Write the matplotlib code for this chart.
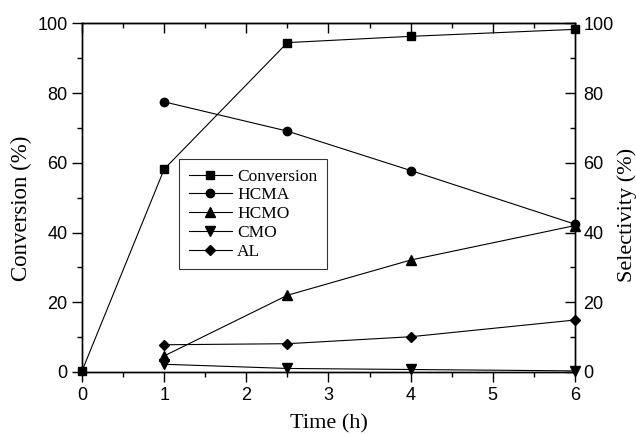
import matplotlib
matplotlib.use("Agg")
import matplotlib.pyplot as plt
from matplotlib.ticker import MultipleLocator

# data
time_conv = [0, 1, 2.5, 4, 6]
conversion = [0.3, 58.2, 94.5, 96.3, 98.3]

time_sel = [1, 2.5, 4, 6]
hcma = [77.5, 69.1, 57.8, 42.4]
hcmo = [4.6, 22.0, 32.1, 42.0]
cmo = [2.2, 1.0, 0.7, 0.3]
al = [7.8, 8.1, 10.1, 14.9]

serif = "Liberation Serif"
sans = "Liberation Sans"

fig = plt.figure(figsize=(6.36, 4.34), dpi=100)
ax = fig.add_axes([0.129, 0.143, 0.775, 0.803])
ax2 = ax.twinx()

lw = 0.8
h1, = ax.plot(time_conv, conversion, "k-s", lw=lw, ms=5.5, label="Conversion", clip_on=False, zorder=3)
h2, = ax2.plot(time_sel, hcma, "k-o", lw=lw, ms=6, label="HCMA", clip_on=False)
h3, = ax2.plot(time_sel, hcmo, "k-^", lw=lw, ms=6.5, label="HCMO", clip_on=False)
h4, = ax2.plot(time_sel, cmo, "k-v", lw=lw, ms=6.5, label="CMO", clip_on=False)
h5, = ax2.plot(time_sel, al, "k-D", lw=lw, ms=5.5, label="AL", clip_on=False)

for a in (ax, ax2):
    a.set_xlim(0, 6)
    a.set_ylim(0, 100)
    a.yaxis.set_major_locator(MultipleLocator(20))
    a.yaxis.set_minor_locator(MultipleLocator(10))
    for s in a.spines.values():
        s.set_linewidth(1.0)

ax.xaxis.set_major_locator(MultipleLocator(1))
ax.xaxis.set_minor_locator(MultipleLocator(0.5))

# left/bottom ticks outward, top/right ticks inward
ax.tick_params(axis="both", which="major", direction="out", length=7, width=1, labelsize=13)
ax.tick_params(axis="both", which="minor", direction="out", length=3.5, width=1)
ax.tick_params(axis="x", which="both", top=False)
ax2.tick_params(axis="y", which="major", direction="in", length=7, width=1, labelsize=13, pad=6)
ax2.tick_params(axis="y", which="minor", direction="in", length=3.5, width=1)

top = ax.secondary_xaxis("top")
top.xaxis.set_major_locator(MultipleLocator(1))
top.xaxis.set_minor_locator(MultipleLocator(0.5))
top.tick_params(which="major", direction="in", length=7, width=1, labeltop=False)
top.tick_params(which="minor", direction="in", length=3.5, width=1)

for lab in ax.get_xticklabels() + ax.get_yticklabels() + ax2.get_yticklabels():
    lab.set_fontfamily(sans)

ax.set_xlabel("Time (h)", fontfamily=serif, fontsize=16, labelpad=8)
ax.set_ylabel("Conversion (%)", fontfamily=serif, fontsize=16.5)
ax2.set_ylabel("Selectivity (%)", fontfamily=serif, fontsize=16)
ax.yaxis.set_label_coords(-0.101, 0.47)
ax2.yaxis.set_label_coords(1.085, 0.45)

leg = ax2.legend(handles=[h1, h2, h3, h4, h5], loc="upper left",
                 bbox_to_anchor=(0.197, 0.611), borderaxespad=0, frameon=True,
                 fancybox=False, edgecolor="black",
                 prop={"family": serif, "size": 12.5},
                 handlelength=2.5, handletextpad=0.3, labelspacing=0.15,
                 borderpad=0.55)
leg.get_frame().set_linewidth(0.8)

fig.savefig("out.png", dpi=100)
